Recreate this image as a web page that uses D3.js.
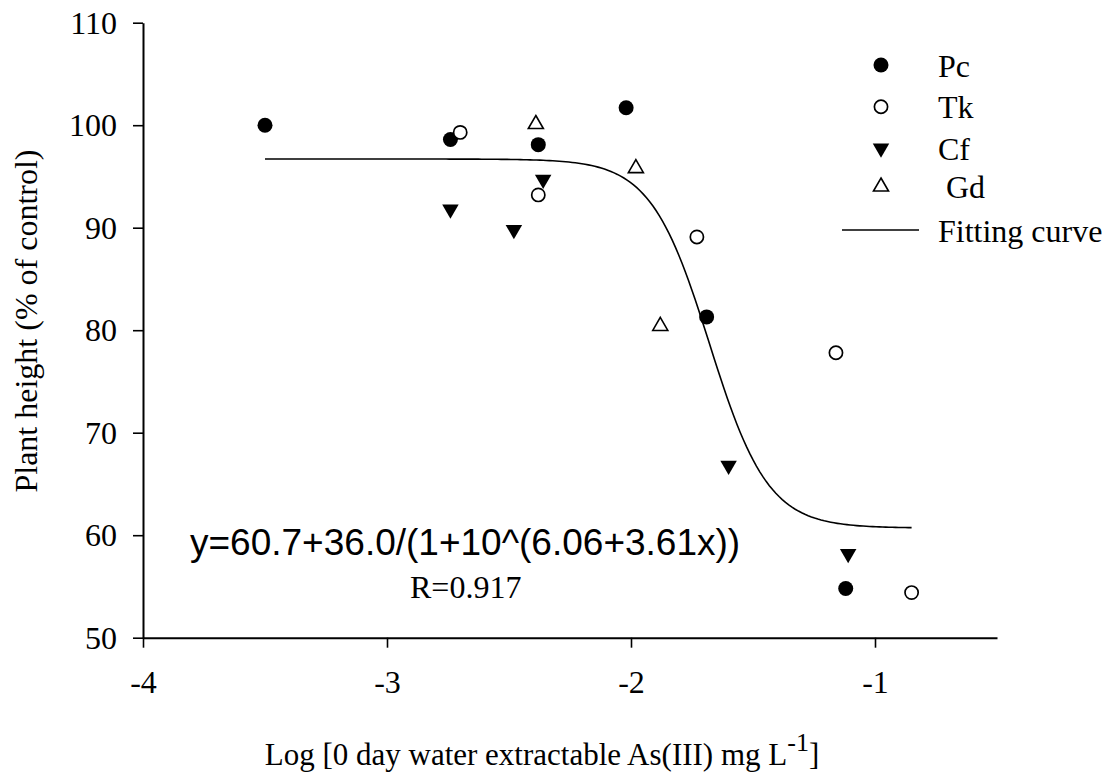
<!DOCTYPE html>
<html>
<head>
<meta charset="utf-8">
<script src="https://cdn.jsdelivr.net/npm/d3@7"></script>
<style>
  html, body { margin: 0; padding: 0; background: #fff; }
  svg { display: block; }
  .serif { font-family: "Liberation Serif", "Times New Roman", serif; }
</style>
</head>
<body>
<svg id="chart" width="1118" height="778"></svg>
<script>
// Plant height response to water-extractable As(III)
const pcX = [-3.50, -2.74, -2.38, -2.02, -1.69, -1.12];
const pcY = [100.0, 98.6, 98.1, 101.7, 81.3, 54.8];
const tkX = [-2.70, -2.38, -1.73, -1.16, -0.85];
const tkY = [99.3, 93.2, 89.1, 77.8, 54.4];
const cfX = [-2.74, -2.48, -2.36, -1.60, -1.11];
const cfY = [91.8, 89.8, 94.7, 66.8, 58.2];
const gdX = [-2.39, -1.98, -1.88];
const gdY = [100.1, 95.8, 80.4];

// Sigmoid fit y = a + b / (1 + 10^(c + d x))
const fitA = 60.7, fitB = 36.0, fitC = 6.06, fitD = 3.61;
const fitRange = [-3.50, -0.85];
const fitR = "0.917";

const xTicks = [-4, -3, -2, -1];
const yTicks = [50, 60, 70, 80, 90, 100, 110];
const legendNames = ["Pc", "Tk", "Cf", " Gd", "Fitting curve"];

const svg = d3.select("#chart");
const x = d3.scaleLinear().domain([-4, -0.5]).range([143, 997]);
const y = d3.scaleLinear().domain([50, 110]).range([637.7, 22.7]);

const serif = '"Liberation Serif", "Times New Roman", serif';
const sans = '"Liberation Sans", Arial, sans-serif';

// Axes
const yAxis = svg.append("g")
  .attr("transform", `translate(${x(-4)},0)`)
  .call(d3.axisLeft(y).tickValues(yTicks).tickSize(10).tickPadding(16).tickSizeOuter(0)
        .tickFormat(d => String(d)));
const xAxis = svg.append("g")
  .attr("transform", `translate(0,${y(50)})`)
  .call(d3.axisBottom(x).tickValues(xTicks).tickSize(10).tickSizeOuter(0)
        .tickFormat(d => String(d)));

[yAxis, xAxis].forEach(g => {
  g.select(".domain").attr("stroke", "#000").attr("stroke-width", 2);
  g.selectAll(".tick line").attr("stroke", "#000").attr("stroke-width", 1.6);
  g.selectAll("text").attr("font-family", serif).attr("font-size", 32).attr("fill", "#000");
});
yAxis.selectAll(".tick text").attr("dy", "0.33em");
xAxis.selectAll(".tick text").attr("dy", null).attr("y", 55);

// Axis titles
svg.append("text")
  .attr("transform", `translate(37,321) rotate(-90)`)
  .attr("text-anchor", "middle")
  .attr("font-family", serif).attr("font-size", 32)
  .text("Plant height (% of control)");

const xt = svg.append("text")
  .attr("x", 542).attr("y", 765)
  .attr("text-anchor", "middle")
  .attr("font-family", serif).attr("font-size", 31);
xt.append("tspan").text("Log [0 day water extractable As(III) mg L");
xt.append("tspan").attr("font-size", 26).attr("dy", -14).text("-1");
xt.append("tspan").attr("dy", 14).text("]");

// Fitted curve
const fitFn = v => fitA + fitB / (1 + Math.pow(10, fitC + fitD * v));
const curveX = d3.range(0, 201).map(i => fitRange[0] + (fitRange[1] - fitRange[0]) * i / 200);
svg.append("path")
  .datum(curveX)
  .attr("fill", "none").attr("stroke", "#000").attr("stroke-width", 1.6)
  .attr("d", d3.line().x(d => x(d)).y(d => y(fitFn(d))));

// Markers
const triSize = 118;
const triUp = d3.symbol().type(d3.symbolTriangle).size(triSize)();
function drawMarker(g, type, cx, cy) {
  if (type === "filledCircle") {
    g.append("circle").attr("cx", cx).attr("cy", cy).attr("r", 7.5).attr("fill", "#000");
  } else if (type === "openCircle") {
    g.append("circle").attr("cx", cx).attr("cy", cy).attr("r", 6.6)
      .attr("fill", "#fff").attr("stroke", "#000").attr("stroke-width", 1.7);
  } else if (type === "filledDown") {
    g.append("path").attr("d", triUp)
      .attr("transform", `translate(${cx},${cy}) rotate(180)`).attr("fill", "#000");
  } else if (type === "openUp") {
    g.append("path").attr("d", d3.symbol().type(d3.symbolTriangle).size(triSize - 20)())
      .attr("transform", `translate(${cx},${cy})`)
      .attr("fill", "#fff").attr("stroke", "#000").attr("stroke-width", 1.6);
  }
}

const series = [
  { xs: pcX, ys: pcY, type: "filledCircle" },
  { xs: tkX, ys: tkY, type: "openCircle" },
  { xs: cfX, ys: cfY, type: "filledDown" },
  { xs: gdX, ys: gdY, type: "openUp" }
];
const pts = svg.append("g");
series.forEach(s => {
  s.xs.forEach((v, i) => drawMarker(pts, s.type, x(v), y(s.ys[i])));
});

// Legend
const legend = svg.append("g");
const rowY = [65, 106.7, 148.3, 186.7];
series.forEach((s, i) => {
  drawMarker(legend, s.type, 881, rowY[i]);
  legend.append("text")
    .attr("x", 938).attr("y", rowY[i] + 11.5)
    .attr("font-family", serif).attr("font-size", 32)
    .attr("xml:space", "preserve")
    .style("white-space", "pre")
    .text(legendNames[i]);
});
legend.append("line")
  .attr("x1", 842).attr("x2", 919).attr("y1", 230).attr("y2", 230)
  .attr("stroke", "#000").attr("stroke-width", 1.6);
legend.append("text")
  .attr("x", 938).attr("y", 241.5)
  .attr("font-family", serif).attr("font-size", 32)
  .text(legendNames[4]);

// Equation and correlation coefficient
svg.append("text")
  .attr("x", 190).attr("y", 555)
  .attr("font-family", sans).attr("font-size", 37)
  .text(`y=${fitA.toFixed(1)}+${fitB.toFixed(1)}/(1+10^(${fitC.toFixed(2)}+${fitD.toFixed(2)}x))`);
svg.append("text")
  .attr("x", 410).attr("y", 598)
  .attr("font-family", serif).attr("font-size", 32)
  .text(`R=${fitR}`);
</script>
</body>
</html>
